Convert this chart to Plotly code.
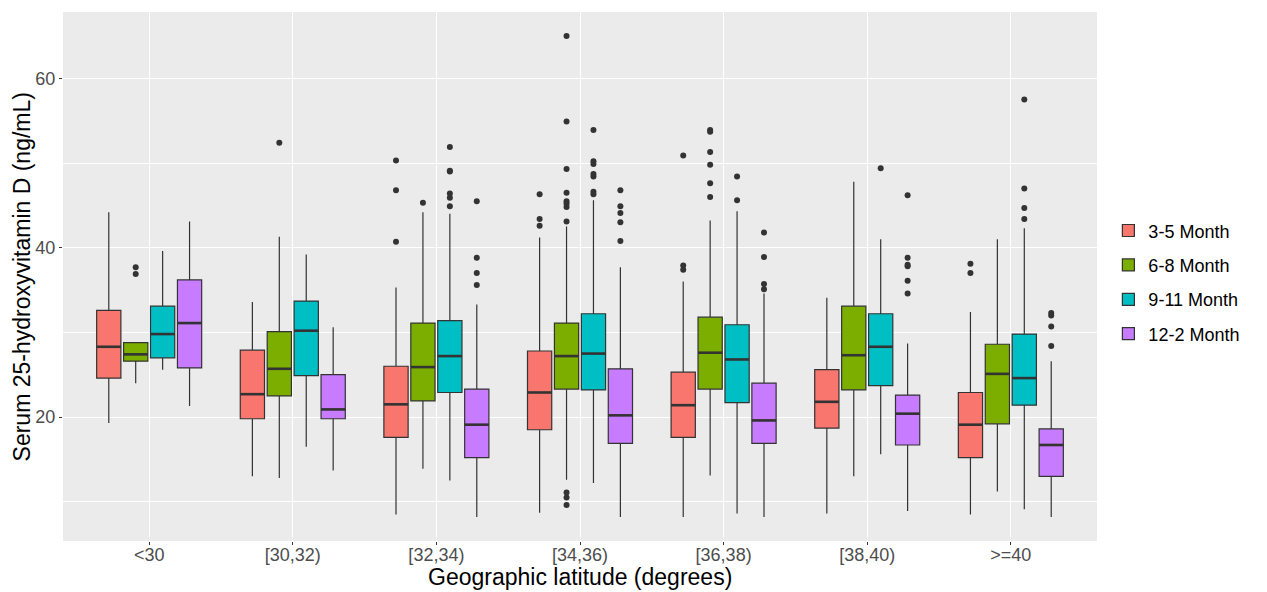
import plotly.graph_objects as go

categories = ["<30", "[30,32)", "[32,34)", "[34,36)", "[36,38)", "[38,40)", ">=40"]
seasons = ["3-5 Month", "6-8 Month", "9-11 Month", "12-2 Month"]
colors = ["#F8766D", "#7CAE00", "#00BFC4", "#C77CFF"]
x_title = "Geographic latitude (degrees)"
y_title = "Serum 25-hydroxyvitamin D (ng/mL)"

# five-number summaries per season (one value per latitude category)
lower_35 = [19.3, 13.0, 8.5, 8.7, 8.2, 8.6, 8.5]
q1_35 = [24.6, 19.8, 17.6, 18.5, 17.6, 18.7, 15.2]
med_35 = [28.3, 22.7, 21.5, 22.9, 21.4, 21.8, 19.1]
q3_35 = [32.6, 27.9, 26.0, 27.8, 25.3, 25.6, 22.9]
upper_35 = [44.2, 33.6, 35.3, 41.2, 36.0, 34.1, 32.4]
out_35 = [[], [], [40.7, 46.8, 50.3], [42.6, 43.4, 46.3], [37.4, 37.9, 50.9], [], [37.0, 38.1]]

lower_68 = [24.0, 12.8, 13.9, 12.6, 13.1, 13.0, 11.2]
q1_68 = [26.6, 22.5, 21.9, 23.3, 23.3, 23.2, 19.2]
med_68 = [27.4, 25.7, 25.9, 27.2, 27.6, 27.3, 25.1]
q3_68 = [28.8, 30.1, 31.1, 31.1, 31.8, 33.1, 28.6]
upper_68 = [28.8, 41.3, 44.2, 42.5, 43.2, 47.8, 41.0]
out_68 = [[36.9, 37.7], [52.4], [45.3],
          [43.1, 44.8, 45.2, 45.5, 46.5, 49.3, 54.9, 65.0, 9.6, 10.5, 11.1],
          [46.0, 47.6, 49.8, 51.3, 53.7, 53.9], [], []]

lower_911 = [25.6, 16.5, 12.5, 12.2, 8.6, 15.6, 9.1]
q1_911 = [27.0, 24.9, 22.9, 23.2, 21.7, 23.7, 21.4]
med_911 = [29.8, 30.2, 27.2, 27.5, 26.8, 28.3, 24.6]
q3_911 = [33.1, 33.7, 31.4, 32.2, 30.9, 32.2, 29.8]
upper_911 = [39.6, 39.2, 44.0, 45.6, 44.3, 41.0, 42.3]
out_911 = [[], [], [44.9, 45.9, 46.4, 49.0, 49.1, 51.9],
           [46.3, 46.6, 48.4, 48.7, 49.9, 50.2, 53.9], [45.6, 48.4], [49.4],
           [43.4, 44.7, 47.0, 57.5]]

lower_122 = [21.3, 13.7, 8.2, 8.2, 8.2, 8.9, 8.2]
q1_122 = [25.8, 19.8, 15.2, 16.9, 16.9, 16.7, 13.0]
med_122 = [31.1, 20.9, 19.1, 20.2, 19.6, 20.4, 16.7]
q3_122 = [36.2, 25.0, 23.3, 25.7, 24.0, 22.6, 18.6]
upper_122 = [43.1, 30.6, 33.3, 37.7, 34.6, 28.7, 26.6]
out_122 = [[], [], [35.6, 37.0, 38.8, 45.5], [40.8, 43.0, 44.1, 44.9, 46.8],
           [35.1, 35.7, 38.9, 41.8], [34.6, 36.1, 37.8, 38.0, 38.8, 46.2],
           [28.4, 30.7, 32.0, 32.3]]

stats = [
    (lower_35, q1_35, med_35, q3_35, upper_35, out_35),
    (lower_68, q1_68, med_68, q3_68, upper_68, out_68),
    (lower_911, q1_911, med_911, q3_911, upper_911, out_911),
    (lower_122, q1_122, med_122, q3_122, upper_122, out_122),
]

DODGE = 0.75
n_groups = len(seasons)
slot = DODGE / n_groups
box_w = slot * 0.9
line_col = "#333333"
font_family = "Liberation Sans, Arial, sans-serif"

fig = go.Figure()
for g, (lo, q1, med, q3, hi, outs) in enumerate(stats):
    pos = [i + 1 + (g - (n_groups - 1) / 2) * slot for i in range(len(categories))]
    fig.add_trace(go.Box(
        x=pos, q1=q1, median=med, q3=q3, lowerfence=lo, upperfence=hi,
        name=seasons[g], fillcolor=colors[g],
        line=dict(color=line_col, width=1.2), width=box_w, whiskerwidth=0,
        boxpoints=False, legendgroup=seasons[g], hoverinfo="skip",
    ))
    # thicker median segments (ggplot style)
    mx, my = [], []
    for p, m in zip(pos, med):
        mx += [p - box_w / 2, p + box_w / 2, None]
        my += [m, m, None]
    fig.add_trace(go.Scatter(x=mx, y=my, mode="lines",
                             line=dict(color=line_col, width=2.6),
                             legendgroup=seasons[g],
                             showlegend=False, hoverinfo="skip"))
    ox, oy = [], []
    for p, ol in zip(pos, outs):
        ox += [p] * len(ol)
        oy += ol
    fig.add_trace(go.Scatter(x=ox, y=oy, mode="markers",
                             marker=dict(color=line_col, size=6),
                             legendgroup=seasons[g],
                             showlegend=False, hoverinfo="skip"))

fig.update_layout(
    width=1267, height=592,
    margin=dict(l=63, r=170, t=12, b=51),
    paper_bgcolor="white", plot_bgcolor="#EBEBEB",
    font=dict(family=font_family, color="black"),
    showlegend=True,
    legend=dict(x=1.011, y=0.489, xanchor="left", yanchor="middle",
                font=dict(size=18, color="black"), bgcolor="white",
                tracegroupgap=8, traceorder="grouped"),
    annotations=[
        dict(text=x_title, xref="paper", yref="paper", x=0.5, y=-0.0964,
             xanchor="center", yanchor="bottom", showarrow=False,
             font=dict(size=23, color="black")),
        dict(text=y_title, xref="paper", yref="paper", x=-0.0397, y=0.5,
             xanchor="center", yanchor="middle", showarrow=False, textangle=-90,
             font=dict(size=23, color="black")),
    ],
)
fig.update_xaxes(
    range=[0.4, len(categories) + 0.6],
    tickvals=list(range(1, len(categories) + 1)), ticktext=categories,
    showgrid=True, gridcolor="white", gridwidth=1.1, zeroline=False,
    ticks="outside", ticklen=3, tickcolor=line_col,
    tickfont=dict(size=18, color="#4D4D4D"), ticklabelstandoff=-6,
    showline=False, automargin=False,
)
fig.update_yaxes(
    range=[5.36, 67.84],
    tickvals=[20, 40, 60],
    showgrid=True, gridcolor="white", gridwidth=1.1, zeroline=False,
    minor=dict(tickvals=[10, 30, 50], showgrid=True, gridcolor="white", gridwidth=0.5),
    ticks="outside", ticklen=3, tickcolor=line_col,
    tickfont=dict(size=18, color="#4D4D4D"),
    showline=False, automargin=False,
)

fig.write_html("out.html")
